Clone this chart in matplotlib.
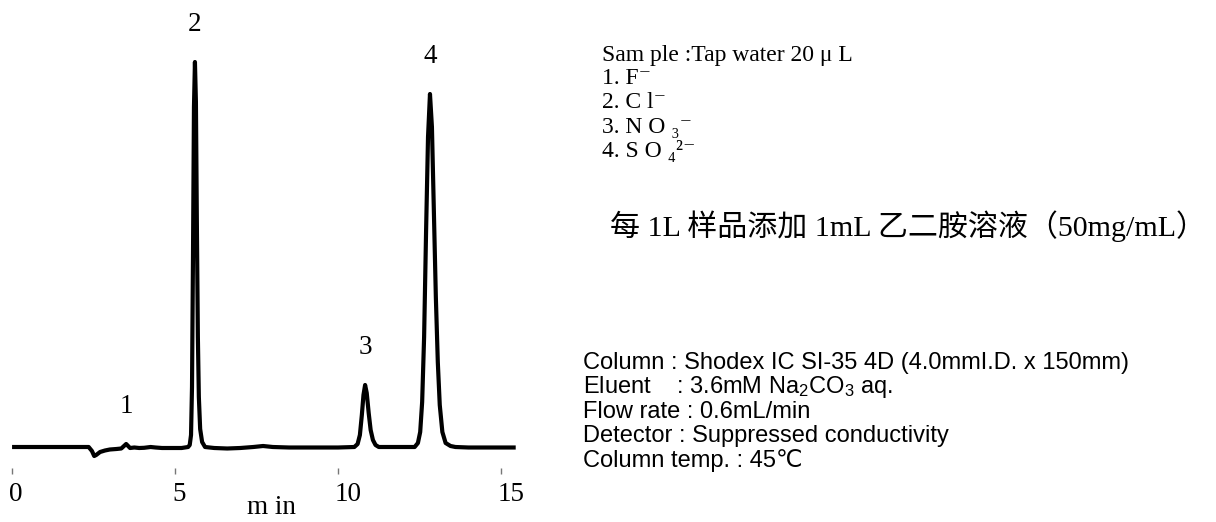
import numpy as np
import matplotlib.pyplot as plt
import matplotlib.transforms as mtransforms

# chromatogram trace (time in min, signal in arb. units)
time_min = [0.00, 1.00, 2.00, 2.35, 2.45, 2.52, 2.58, 2.70, 2.85, 3.00, 3.20, 3.35,
            3.45, 3.50, 3.56, 3.62, 3.75, 3.90, 4.05, 4.25, 4.40, 4.60, 4.90, 5.20,
            5.40, 5.45, 5.49, 5.52, 5.55, 5.58, 5.61, 5.64, 5.67, 5.70, 5.73, 5.77,
            5.83, 5.92, 6.20, 6.60, 7.00, 7.40, 7.70, 8.00, 8.50, 9.00, 9.50, 10.00,
            10.50, 10.60, 10.67, 10.73, 10.78, 10.83, 10.88, 10.94, 11.00, 11.07, 11.15, 11.25,
            11.60, 12.00, 12.35, 12.45, 12.52, 12.58, 12.64, 12.70, 12.76, 12.82, 12.88, 12.94,
            13.00, 13.06, 13.12, 13.20, 13.30, 13.45, 13.60, 14.00, 14.50, 15.00, 15.45]
signal = [0.0, 0.0, 0.0, 0.0, -4.0, -9.0, -8.0, -5.0, -3.5, -2.5, -2.0, -1.5,
          1.5, 3.0, 1.0, -1.0, -0.5, -1.0, -0.8, 0.0, -0.5, -1.0, -1.0, -1.0,
          0.0, 2.0, 12.0, 60.0, 190.0, 340.0, 385.0, 345.0, 220.0, 110.0, 50.0, 18.0,
          5.0, 0.0, -1.0, -1.5, -1.0, 0.0, 1.0, 0.0, -0.5, -0.5, -0.5, -0.5,
          0.0, 3.0, 12.0, 32.0, 52.0, 62.0, 54.0, 34.0, 17.0, 7.0, 2.0, 0.0,
          0.0, 0.0, 0.0, 4.0, 15.0, 45.0, 110.0, 215.0, 310.0, 353.0, 320.0, 235.0,
          150.0, 85.0, 42.0, 15.0, 4.0, 1.0, 0.0, -0.5, -0.5, -0.5, -0.5]

peak_ids = ['1', '2', '3', '4']
peak_rt = [3.50, 5.61, 10.83, 12.82]
peak_height = [3.0, 385.0, 62.0, 353.0]

xticks = [0, 5, 10, 15]

sample_lines = ['Sam ple :Tap water 20 μ L', '1. F⁻', '2. C l⁻', '3. N O ₃⁻', '4. S O ₄²⁻']
note_line = '每 1L 样品添加 1mL 乙二胺溶液（50mg/mL）'
cond_lines = ['Column : Shodex IC SI-35 4D (4.0mmI.D. x 150mm)',
              'Eluent    : 3.6mM Na$_2$CO$_3$ aq.',
              'Flow rate : 0.6mL/min',
              'Detector : Suppressed conductivity',
              'Column temp. : 45℃']

serif = ['Liberation Serif', 'DejaVu Serif']
sans = ['Liberation Sans', 'DejaVu Sans', 'Noto Sans CJK SC']

plt.rcParams['mathtext.fontset'] = 'custom'
plt.rcParams['mathtext.rm'] = 'Liberation Sans'
plt.rcParams['mathtext.it'] = 'Liberation Sans:italic'
plt.rcParams['mathtext.bf'] = 'Liberation Sans:bold'

W, H = 1216, 522
fig = plt.figure(figsize=(W / 100, H / 100), dpi=100)
# 1 signal unit = 1 pixel, 32.6 px per minute
ax = fig.add_axes([0, 0, 520.6 / W, 1])
ax.set_xlim(-0.37, 15.6)
ax.set_ylim(-75, 447)

ax.plot(time_min, signal, color='black', lw=3, solid_joinstyle='round',
        solid_capstyle='butt')

for pid, rt, h in zip(peak_ids, peak_rt, peak_height):
    ax.annotate(pid, xy=(rt, h), xytext=(0, 25), textcoords='offset pixels',
                ha='center', va='bottom', fontsize=19.5, family=serif)

for side in ['left', 'right', 'top']:
    ax.spines[side].set_visible(False)
ax.spines['bottom'].set_position(('data', -27))
ax.spines['bottom'].set_color('none')
ax.set_yticks([])
ax.set_xticks(xticks)
ax.set_xticklabels([str(t) for t in xticks], family=serif)
ax.tick_params(axis='x', direction='in', length=4, width=1, color='#777777',
               labelsize=19.5, pad=6)
shift = mtransforms.ScaledTranslation(-3 / 100, 0, fig.dpi_scale_trans)
for lbl in ax.get_xticklabels():
    lbl.set_ha('left')
    lbl.set_transform(lbl.get_transform() + shift)
ax.text(7.95, -60, 'm in', ha='center', va='center', fontsize=19.5, family=serif)

# sample description
for i, s in enumerate(sample_lines):
    fig.text(602 / W, 1 - (55 + 24 * i) / H, s, ha='left', va='center',
             fontsize=17, family=serif)
fig.text(610 / W, 1 - 226 / H, note_line, ha='left', va='center', fontsize=21.6,
         family=['Liberation Serif', 'Noto Sans CJK SC'])

# analysis conditions
for i, s in enumerate(cond_lines):
    fig.text(583 / W, 1 - (363 + 24.3 * i) / H, s, ha='left', va='center',
             fontsize=17, family=sans)

fig.savefig('out.png', dpi=100)
